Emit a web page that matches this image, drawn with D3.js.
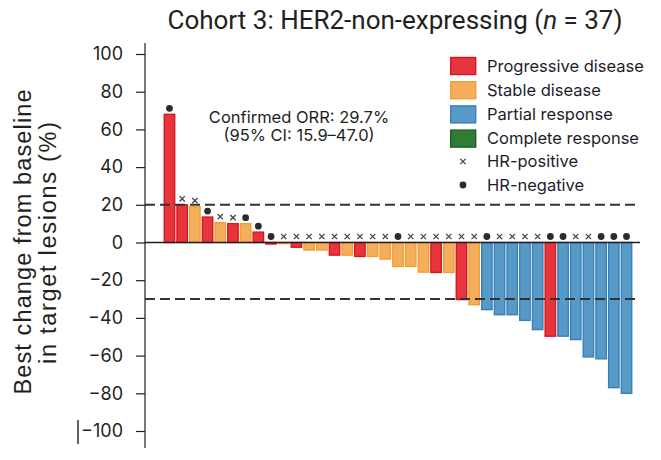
<!DOCTYPE html>
<html>
<head>
<meta charset="utf-8">
<script src="https://cdn.jsdelivr.net/npm/d3@7"></script>
<style>
  html, body { margin: 0; padding: 0; background: #fff; }
  svg { display: block; }
  .tick-label { font-family: Inter, "Noto Sans", sans-serif; font-size: 18px; fill: #231f20; }
  .legend-label { font-family: Inter, "Noto Sans", sans-serif; font-size: 16.5px; fill: #1f1d2b; }
  .note { font-family: Inter, "Noto Sans", sans-serif; font-size: 16.5px; fill: #231f20; }
</style>
</head>
<body>
<div id="chart"></div>
<script>
// Patient order (sorted waterfall) and best change from baseline (%)
const patients = d3.range(1, 38).map((i) => `P${i}`);
const bestChange = [
  68, 20, 19, 13.5, 10.5, 10, 10, 5.5, -0.8, -0.6, -2.5, -4, -4, -6.7, -6.7,
  -7.4, -7.4, -8.8, -12.7, -12.7, -15.7, -15.9, -15.9, -30.3, -33, -35.6,
  -38.3, -38.3, -41.3, -46.2, -49.7, -49.7, -51.5, -60.7, -61.7, -77, -80,
];
const responses = [
  "PD", "PD", "SD", "PD", "SD", "PD", "SD", "PD", "PD", "SD", "PD", "SD", "SD",
  "PD", "SD", "PD", "SD", "SD", "SD", "SD", "SD", "PD", "SD", "PD", "SD", "PR",
  "PR", "PR", "PR", "PR", "PD", "PR", "PR", "PR", "PR", "PR", "PR",
];
const hrStatus = [
  "neg", "pos", "pos", "neg", "pos", "pos", "neg", "neg", "neg", "pos", "pos",
  "pos", "pos", "pos", "pos", "pos", "pos", "pos", "neg", "pos", "pos", "pos",
  "pos", "pos", "pos", "neg", "pos", "pos", "pos", "pos", "neg", "neg", "pos",
  "pos", "neg", "neg", "neg",
];
const yTicks = [100, 80, 60, 40, 20, 0, -20, -40, -60, -80, -100];
const thresholds = [20, -30];
const responseKeys = ["PD", "SD", "PR", "CR"];
const responseLabels = ["Progressive disease", "Stable disease", "Partial response", "Complete response"];
const hrKeys = ["pos", "neg"];
const hrLabels = ["HR-positive", "HR-negative"];
const noteLines = ["Confirmed ORR: 29.7%", "(95% CI: 15.9\u201347.0)"];
const yLabelLines = ["Best change from baseline", "in target lesions (%)"];

const width = 661;
const height = 460;
const margin = { top: 54, right: 28, bottom: 29, left: 145 };

const fillColor = d3.scaleOrdinal().domain(responseKeys)
  .range(["#e6353d", "#f5ae5c", "#5799c7", "#2f7d34"]);
const strokeColor = d3.scaleOrdinal().domain(responseKeys)
  .range(["#d8171f", "#f39d36", "#3a80b6", "#1c5e22"]);

const rows = patients.map((p, i) => ({
  key: p,
  value: bestChange[i],
  response: responses[i],
  hr: hrStatus[i],
}));

const svg = d3.select("#chart").append("svg")
  .attr("width", width)
  .attr("height", height);

// Scales
const x = d3.scaleBand()
  .domain(patients)
  .range([163, 633])
  .paddingInner(0.18)
  .paddingOuter(0.1);
const y = d3.scaleLinear().domain([-100, 100]).range([431, 54]);

// Title
svg.append("text")
  .attr("x", 395)
  .attr("y", 29)
  .attr("text-anchor", "middle")
  .attr("font-family", "Roboto, sans-serif")
  .attr("font-size", 26)
  .attr("fill", "#231f20")
  .call((t) => t.append("tspan").text("Cohort 3: HER2-non-expressing ("))
  .call((t) => t.append("tspan").attr("font-style", "italic").text("n"))
  .call((t) => t.append("tspan").text(" = 37)"));

// Y axis
const gy = svg.append("g")
  .attr("transform", `translate(${margin.left},0)`)
  .call(d3.axisLeft(y).tickValues(yTicks).tickSize(9).tickPadding(13)
    .tickFormat((d) => (d < 0 ? "\u2212" + Math.abs(d) : d)))
  .attr("font-size", null)
  .attr("font-family", null)
  .call((g) => g.select(".domain").remove())
  .call((g) => g.selectAll(".tick line").attr("stroke", "#231f20").attr("stroke-width", 1.2))
  .call((g) => g.selectAll(".tick text").attr("class", "tick-label").attr("fill", null));
gy.append("line")
  .attr("y1", 43)
  .attr("y2", 448)
  .attr("stroke", "#231f20")
  .attr("stroke-width", 1.2);
// stray mark next to the -100 label in the original
svg.append("line")
  .attr("x1", 78).attr("x2", 78)
  .attr("y1", y(-100) - 11).attr("y2", y(-100) + 13)
  .attr("stroke", "#231f20")
  .attr("stroke-width", 1.4);

// Y label, two lines
svg.append("g")
  .selectAll("text")
  .data(yLabelLines)
  .join("text")
  .attr("transform", (d, i) => `translate(${31 + i * 25},${i ? 243 : 242}) rotate(-90)`)
  .attr("text-anchor", "middle")
  .attr("font-family", "'Liberation Sans', Arial, sans-serif")
  .attr("font-size", 23.5)
  .attr("fill", "#231f20")
  .attr("textLength", (d, i) => (i ? 242 : 305))
  .attr("lengthAdjust", "spacing")
  .text((d) => d);

// Bars
svg.append("g")
  .attr("class", "bars")
  .selectAll("rect")
  .data(rows)
  .join("rect")
  .attr("x", (d) => x(d.key))
  .attr("width", x.bandwidth())
  .attr("y", (d) => Math.min(y(d.value), y(0)))
  .attr("height", (d) => Math.max(Math.abs(y(d.value) - y(0)), 0.8))
  .attr("fill", (d) => fillColor(d.response))
  .attr("stroke", (d) => strokeColor(d.response))
  .attr("stroke-width", 1.4);

// Zero line and threshold lines
svg.append("line")
  .attr("x1", margin.left)
  .attr("x2", width - 21)
  .attr("y1", y(0))
  .attr("y2", y(0))
  .attr("stroke", "#231f20")
  .attr("stroke-width", 1.3);
svg.append("g")
  .selectAll("line")
  .data(thresholds)
  .join("line")
  .attr("x1", margin.left)
  .attr("x2", width - 21)
  .attr("y1", (d) => y(d))
  .attr("y2", (d) => y(d))
  .attr("stroke", "#333")
  .attr("stroke-width", 2)
  .attr("stroke-dasharray", "10,5");

// HR markers
const cross = d3.symbol().type(d3.symbolTimes).size(20);
const markers = svg.append("g")
  .selectAll("g")
  .data(rows)
  .join("g")
  .attr("transform", (d) =>
    `translate(${x(d.key) + x.bandwidth() / 2},${Math.min(y(d.value), y(0)) - 6})`);
markers.filter((d) => d.hr === "neg")
  .append("circle")
  .attr("r", 3.4)
  .attr("fill", "#2b2b2b");
markers.filter((d) => d.hr === "pos")
  .append("path")
  .attr("d", cross)
  .attr("fill", "none")
  .attr("stroke", "#444")
  .attr("stroke-width", 1.3);

// Annotation
svg.append("text")
  .attr("class", "note")
  .attr("text-anchor", "middle")
  .selectAll("tspan")
  .data(noteLines)
  .join("tspan")
  .attr("x", 299)
  .attr("y", (d, i) => 123 + i * 18)
  .text((d) => d);

// Legend
const legend = svg.append("g").attr("transform", "translate(450,0)");
legend.selectAll(".swatch")
  .data(responseKeys)
  .join("rect")
  .attr("class", "swatch")
  .attr("x", 0.7)
  .attr("y", (d, i) => 57.5 + i * 24.2)
  .attr("width", 25)
  .attr("height", 17)
  .attr("fill", (d) => fillColor(d))
  .attr("stroke", (d) => strokeColor(d))
  .attr("stroke-width", 1.4);
legend.selectAll(".legend-label.resp")
  .data(responseLabels)
  .join("text")
  .attr("class", "legend-label resp")
  .attr("x", 37)
  .attr("y", (d, i) => 66 + i * 24.2)
  .attr("dy", "0.35em")
  .text((d) => d);
const hrLegend = legend.selectAll(".hr-item")
  .data(hrKeys)
  .join("g")
  .attr("class", "hr-item")
  .attr("transform", (d, i) => `translate(13,${161.5 + i * 23.5})`);
hrLegend.filter((d) => d === "pos")
  .append("path")
  .attr("d", cross)
  .attr("fill", "none")
  .attr("stroke", "#444")
  .attr("stroke-width", 1.3);
hrLegend.filter((d) => d === "neg")
  .append("circle")
  .attr("r", 3.4)
  .attr("fill", "#2b2b2b");
legend.selectAll(".legend-label.hr")
  .data(hrLabels)
  .join("text")
  .attr("class", "legend-label hr")
  .attr("x", 37)
  .attr("y", (d, i) => 161.5 + i * 23.5)
  .attr("dy", "0.35em")
  .text((d) => d);
</script>
</body>
</html>
